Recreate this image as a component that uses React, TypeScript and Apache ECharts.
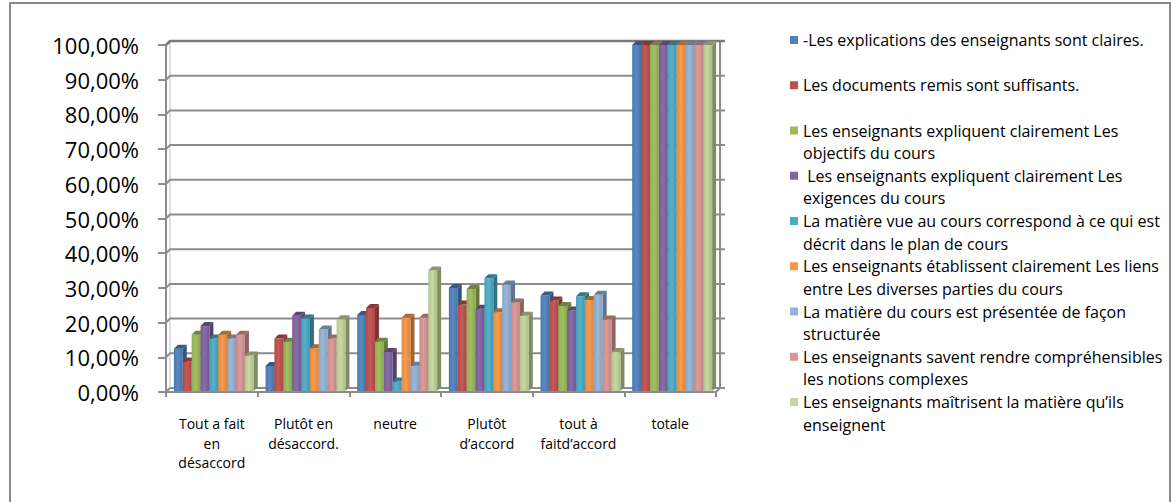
import React, { useEffect, useRef } from "react";
import * as echarts from "echarts";

// Response categories (x axis)
const CATEGORIES = [
  "Tout a fait\nen\ndésaccord",
  "Plutôt en\ndésaccord.",
  "neutre",
  "Plutôt\nd’accord",
  "tout à\nfaitd’accord",
  "totale",
];

// Legend entries, already broken into the lines they are shown on
const SERIES_LINES: string[][] = [
  ["-Les explications des enseignants sont claires."],
  ["Les documents remis sont suffisants."],
  ["Les enseignants expliquent clairement Les", "objectifs du cours"],
  [" Les enseignants expliquent clairement Les", "exigences du cours"],
  ["La matière vue au cours correspond à ce qui est", "décrit dans le plan de cours"],
  ["Les enseignants établissent clairement Les liens", "entre Les diverses parties du cours"],
  ["La matière du cours est présentée de façon", "structurée"],
  ["Les enseignants savent rendre compréhensibles", "les notions complexes"],
  ["Les enseignants maîtrisent la matière qu’ils", "enseignent"],
];

// Share of answers per category, one array per statement
const EXPLICATIONS = [0.125, 0.075, 0.222, 0.3, 0.278, 1];
const DOCUMENTS = [0.088, 0.154, 0.242, 0.252, 0.264, 1];
const OBJECTIFS = [0.165, 0.145, 0.145, 0.297, 0.248, 1];
const EXIGENCES = [0.19, 0.22, 0.115, 0.24, 0.235, 1];
const PLAN_DE_COURS = [0.154, 0.212, 0.03, 0.328, 0.276, 1];
const LIENS = [0.165, 0.126, 0.214, 0.23, 0.265, 1];
const STRUCTUREE = [0.154, 0.18, 0.076, 0.31, 0.28, 1];
const NOTIONS = [0.165, 0.154, 0.214, 0.258, 0.209, 1];
const MAITRISE = [0.105, 0.21, 0.35, 0.22, 0.115, 1];

const VALUES = [
  EXPLICATIONS,
  DOCUMENTS,
  OBJECTIFS,
  EXIGENCES,
  PLAN_DE_COURS,
  LIENS,
  STRUCTUREE,
  NOTIONS,
  MAITRISE,
];

// Value axis ticks
const Y_TICKS = [0, 0.1, 0.2, 0.3, 0.4, 0.5, 0.6, 0.7, 0.8, 0.9, 1];

const COLORS = [
  "#4F81BD",
  "#C0504D",
  "#9BBB59",
  "#8064A2",
  "#4BACC6",
  "#F79646",
  "#95B3D7",
  "#D99694",
  "#C3D69B",
];

const FONT = "'Open Sans', 'Noto Sans', sans-serif";
const FRAME = "#8c8c8c";
const DEPTH = 4; // pseudo-3D depth offset in pixels
const GROUP_RATIO = 0.872;
const LEGEND_LINE = 22.6;

function shade(hex: string, f: number): string {
  const n = parseInt(hex.slice(1), 16);
  let r = (n >> 16) & 255;
  let g = (n >> 8) & 255;
  let b = n & 255;
  if (f < 0) {
    r = r * (1 + f);
    g = g * (1 + f);
    b = b * (1 + f);
  } else {
    r = r + (255 - r) * f;
    g = g + (255 - g) * f;
    b = b + (255 - b) * f;
  }
  return `rgb(${Math.round(r)},${Math.round(g)},${Math.round(b)})`;
}

function percent(v: number): string {
  return (v * 100).toFixed(2).replace(".", ",") + "%";
}

export default function App() {
  const ref = useRef<HTMLDivElement>(null);

  useEffect(() => {
    if (!ref.current) return;
    const chart = echarts.init(ref.current, undefined, { renderer: "svg" });
    const names = SERIES_LINES.map((l) => l.join(" "));
    const nSeries = VALUES.length;

    const barSeries = VALUES.map((vals, idx) => {
      const color = COLORS[idx];
      return {
        type: "custom",
        name: names[idx],
        z: 3,
        itemStyle: { color },
        data: vals.map((v, j) => [j, v]),
        renderItem: (params: any, api: any) => {
          const cat = api.value(0);
          const v = api.value(1);
          const band = api.size([1, 0])[0];
          const groupW = band * GROUP_RATIO;
          const bw = groupW / nSeries;
          const base = api.coord([cat, 0]);
          const top = api.coord([cat, v]);
          const x = base[0] - groupW / 2 + idx * bw + DEPTH / 2;
          const ty = top[1];
          const by = base[1] - 1;
          const d = DEPTH;
          return {
            type: "group",
            children: [
              {
                type: "polygon",
                shape: {
                  points: [
                    [x + bw, ty],
                    [x + bw + d, ty - d],
                    [x + bw + d, by - d],
                    [x + bw, by],
                  ],
                },
                style: { fill: shade(color, -0.35) },
              },
              {
                type: "rect",
                shape: { x, y: ty, width: bw, height: by - ty },
                style: {
                  fill: new echarts.graphic.LinearGradient(0, 0, 1, 0, [
                    { offset: 0, color: shade(color, -0.08) },
                    { offset: 0.45, color: shade(color, 0.06) },
                    { offset: 1, color: shade(color, -0.12) },
                  ]),
                },
              },
              {
                type: "polygon",
                shape: {
                  points: [
                    [x, ty],
                    [x + d, ty - d],
                    [x + bw + d, ty - d],
                    [x + bw, ty],
                  ],
                },
                style: { fill: shade(color, -0.3) },
              },
            ],
          };
        },
      };
    });

    // Back wall gridlines, side wall slants and wall edges
    const frameSeries = {
      type: "custom",
      name: "frame",
      z: 1,
      silent: true,
      data: Y_TICKS.map((v) => [0, v]),
      renderItem: (params: any, api: any) => {
        const cs = params.coordSys;
        const v = api.value(1);
        const y = api.coord([0, v])[1];
        const x0 = cs.x;
        const x1 = cs.x + cs.width;
        const d = DEPTH;
        const isTop = v === Y_TICKS[Y_TICKS.length - 1];
        const children: any[] = [
          {
            type: "polyline",
            shape: {
              points: [
                [x0, y],
                [x0 + d, y - d],
                [x1 + d, y - d],
                [x1 + d + 5, y - d],
              ],
            },
            style: {
              stroke: isTop ? "#7a7a7a" : FRAME,
              lineWidth: isTop ? 2.5 : 2,
              fill: null,
            },
          },
        ];
        if (v === Y_TICKS[0]) {
          const yTop = api.coord([0, Y_TICKS[Y_TICKS.length - 1]])[1];
          children.push(
            {
              type: "line",
              shape: { x1: x0 + d, y1: yTop - d, x2: x0 + d, y2: y - d },
              style: { stroke: "#bdbdbd", lineWidth: 1 },
            },
            {
              type: "line",
              shape: { x1: x1 + d, y1: yTop - d, x2: x1 + d, y2: y - d },
              style: { stroke: FRAME, lineWidth: 2 },
            },
            {
              type: "line",
              shape: { x1: x1, y1: y, x2: x1 + d, y2: y - d },
              style: { stroke: FRAME, lineWidth: 2 },
            }
          );
        }
        return { type: "group", children };
      },
    };

    const legends = SERIES_LINES.map((lines, k) => {
      const center = 40 + k * 45.25;
      const multi = lines.length > 1;
      const text = multi ? "\n" + lines.join("\n") : lines[0];
      return {
        data: [names[k]],
        left: 790,
        top: multi ? center - 1.5 * LEGEND_LINE : center - 0.5 * LEGEND_LINE,
        orient: "vertical",
        padding: 0,
        itemGap: 0,
        icon: "rect",
        itemWidth: 8,
        itemHeight: 8,
        selectedMode: false,
        formatter: () => text,
        textStyle: {
          fontFamily: FONT,
          fontSize: 16,
          lineHeight: LEGEND_LINE,
          color: "#000",
        },
      };
    });

    chart.setOption({
      animation: false,
      backgroundColor: "#fff",
      color: COLORS,
      grid: { left: 166, right: 457, top: 45, bottom: 110 },
      legend: legends,
      graphic: [
        {
          type: "rect",
          shape: { x: 10, y: 3, width: 1160, height: 540 },
          style: { fill: null, stroke: "#8a8a8a", lineWidth: 2 },
          z: 0,
          silent: true,
        },
      ],
      xAxis: {
        type: "category",
        data: CATEGORIES,
        axisLine: { lineStyle: { color: FRAME, width: 2 } },
        axisTick: { show: true, length: 5, lineStyle: { color: FRAME, width: 2 } },
        axisLabel: {
          interval: 0,
          margin: 22,
          fontFamily: FONT,
          fontSize: 14,
          lineHeight: 19.5,
          color: "#000",
        },
        splitLine: { show: false },
      },
      yAxis: {
        type: "value",
        min: Y_TICKS[0],
        max: Y_TICKS[Y_TICKS.length - 1],
        interval: Y_TICKS[1] - Y_TICKS[0],
        axisLine: { show: true, lineStyle: { color: FRAME, width: 2 } },
        axisTick: { show: true, length: 8, lineStyle: { color: FRAME, width: 2 } },
        axisLabel: {
          margin: 27,
          fontFamily: FONT,
          fontSize: 22,
          color: "#000",
          formatter: (v: number) => percent(v),
        },
        splitLine: { show: false },
      },
      series: [...barSeries, frameSeries],
    });

    return () => chart.dispose();
  }, []);

  return (
    <div
      ref={ref}
      style={{ position: "fixed", left: 0, top: 0, width: 1173, height: 502 }}
    />
  );
}
